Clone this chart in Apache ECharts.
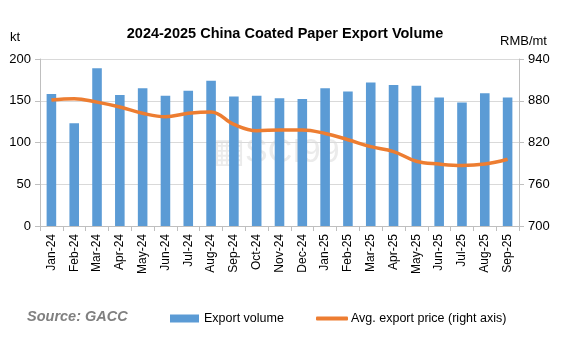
<!DOCTYPE html>
<html>
<head>
<meta charset="utf-8">
<script src="https://cdn.jsdelivr.net/npm/echarts@6/dist/echarts.min.js"></script>
<style>
  html, body { margin: 0; padding: 0; background: #fff; }
  #chart { width: 567px; height: 338px; }
</style>
</head>
<body>
<div id="chart"></div>
<script>
// Monthly categories
const months = ['Jan-24','Feb-24','Mar-24','Apr-24','May-24','Jun-24','Jul-24','Aug-24','Sep-24','Oct-24','Nov-24','Dec-24',
                'Jan-25','Feb-25','Mar-25','Apr-25','May-25','Jun-25','Jul-25','Aug-25','Sep-25'];
// Export volume, kt
const exportVolume = [158, 123, 189, 157, 165, 156, 162, 174, 155, 156, 153, 152,
                      165, 161, 172, 169, 168, 154, 148, 159, 154];
// Average export price, RMB/mt
const avgPrice = [881, 883, 878, 871, 862, 857, 862, 864, 846, 837, 838, 838,
                  833, 824, 814, 807, 793, 789, 787, 789, 796];

const font = '"Liberation Sans", "DejaVu Sans", sans-serif';
const lineGray = '#BFBFBF';
const barColor = '#5B9BD5';
const lineColor = '#ED7D31';

const chart = echarts.init(document.getElementById('chart'));
chart.setOption({
  animation: false,
  textStyle: { fontFamily: font },
  title: {
    text: '2024-2025 China Coated Paper Export Volume',
    left: 280, top: 21, textAlign: 'center',
    textStyle: { fontFamily: font, fontSize: 14.5, fontWeight: 'bold', color: '#000' }
  },
  grid: { left: 40, right: 48, top: 59, bottom: 112, containLabel: false },
  legend: [
    {
      left: 170, top: 312, padding: 0, itemWidth: 29, itemHeight: 8,
      textStyle: { fontFamily: font, fontSize: 12.5, color: '#000' },
      data: [{ name: 'Export volume', icon: 'rect' }]
    },
    {
      left: 316, top: 312, padding: 0, itemWidth: 32, itemHeight: 4,
      textStyle: { fontFamily: font, fontSize: 12.5, color: '#000', padding: [0, 0, 0, -2] },
      data: [{ name: 'Avg. export price (right axis)', icon: 'roundRect' }]
    }
  ],
  graphic: [
    { type: 'text', left: 10, top: 31, style: { text: 'kt', fontFamily: font, fontSize: 13, fill: '#000' } },
    { type: 'text', left: 500, top: 35, style: { text: 'RMB/mt', fontFamily: font, fontSize: 13, fill: '#000' } },
    { type: 'text', left: 27, top: 309, style: { text: 'Source: GACC', fontFamily: font, fontSize: 14.5, fontWeight: 'bold', fontStyle: 'italic', fill: '#808080' } },
    { type: 'text', left: 213, top: 136, z: 0, style: { text: '▦SCI99', fontFamily: font, fontSize: 34, fill: 'rgba(190,190,190,0.3)' } }
  ],
  xAxis: {
    type: 'category',
    data: months,
    boundaryGap: true,
    axisLine: { lineStyle: { color: lineGray } },
    axisTick: { show: true, length: 5, lineStyle: { color: lineGray } },
    axisLabel: { rotate: 90, fontSize: 12, color: '#000', margin: 8, fontFamily: font }
  },
  yAxis: [
    {
      type: 'value', min: 0, max: 200, interval: 50,
      axisLine: { show: true, lineStyle: { color: lineGray } },
      axisTick: { show: true, length: 5, lineStyle: { color: lineGray } },
      splitLine: { lineStyle: { color: '#D9D9D9' } },
      axisLabel: { fontSize: 13, color: '#000', margin: 9, fontFamily: font }
    },
    {
      type: 'value', min: 700, max: 940, interval: 60,
      position: 'right',
      axisLine: { show: true, lineStyle: { color: lineGray } },
      axisTick: { show: true, length: 5, lineStyle: { color: lineGray } },
      splitLine: { show: false },
      axisLabel: { fontSize: 13, color: '#000', margin: 9, fontFamily: font }
    }
  ],
  series: [
    {
      name: 'Export volume', type: 'bar', data: exportVolume,
      barWidth: '42%', itemStyle: { color: barColor }, z: 2
    },
    {
      name: 'Avg. export price (right axis)', type: 'line', yAxisIndex: 1, data: avgPrice,
      smooth: 0.4, symbol: 'none', lineStyle: { color: lineColor, width: 3.5 },
      itemStyle: { color: lineColor }, z: 3
    }
  ]
});
</script>
</body>
</html>
